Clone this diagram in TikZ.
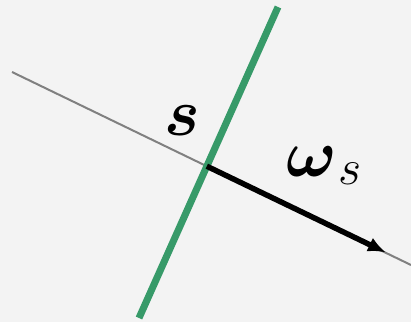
\RequirePackage{fix-cm}
\documentclass[tikz,border=0pt]{standalone}
\usepackage{amsmath}
\usepackage{bm}
\usetikzlibrary{arrows.meta}
\definecolor{bgc}{HTML}{F3F3F3}
\definecolor{greenc}{HTML}{379A69}
\definecolor{grayc}{HTML}{808080}
\tikzset{
  axisline/.style={draw=grayc, line width=2pt},
  planeline/.style={draw=greenc, line width=7pt},
  vecline/.style={draw=black, line width=5.5pt, -{Latex[length=18pt,width=15pt]}},
  biglabel/.style={font=\fontsize{67}{70}\selectfont, inner sep=0pt}
}
\begin{document}
\begin{tikzpicture}[x=1pt,y=1pt]
  \fill[bgc] (0,0) rectangle (411,322);
  \useasboundingbox (0,0) rectangle (411,322);
  \coordinate (ga) at (12,250);
  \coordinate (gb) at (411,57);
  \coordinate (pa) at (139,4);
  \coordinate (pb) at (278,315);
  \coordinate (o) at (206.8,155.8);
  \coordinate (tip) at (386,69.5);
  \draw[axisline] (ga) -- (gb);
  \draw[planeline] (pa) -- (pb);
  \draw[vecline] (o) -- (tip);
  \node[biglabel] (s) at (182,201) {$\bm{s}$};
  \node[biglabel, anchor=base west] (w) at (286,146)
    {$\bm{\omega}$\hspace{2pt}\raisebox{-8pt}{\fontsize{50}{50}\selectfont$s$}};
\end{tikzpicture}
\end{document}
